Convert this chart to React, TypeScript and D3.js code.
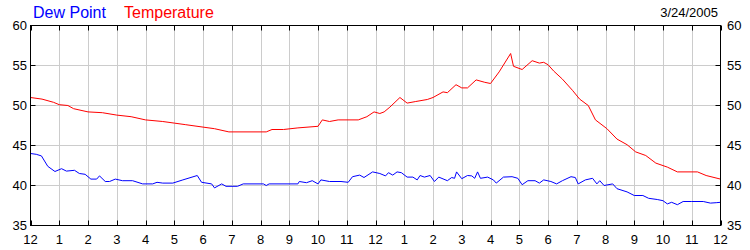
import React from "react";
import * as d3 from "d3";

const hourLabels = ["12","1","2","3","4","5","6","7","8","9","10","11","12","1","2","3","4","5","6","7","8","9","10","11","12"];
const yTicks = [35, 40, 45, 50, 55, 60];

const tempHours = [0,0.4,0.8,1.0,1.3,1.5,2.0,2.5,3.0,3.5,4.0,4.6,5.0,5.4,6.0,6.4,6.9,8.2,8.4,8.8,9.3,10.0,10.15,10.4,10.7,11.4,11.7,11.95,12.15,12.3,12.5,12.85,13.1,13.4,13.8,14.0,14.35,14.5,14.8,15.0,15.2,15.5,15.8,16.0,16.3,16.7,16.8,17.1,17.45,17.7,17.85,18.0,18.2,18.5,18.85,19.1,19.4,19.65,20.05,20.4,20.75,21.05,21.4,21.75,22.15,22.5,23.2,23.5,24];
const tempValues = [51.0,50.8,50.4,50.1,50.0,49.6,49.2,49.1,48.8,48.6,48.2,48.0,47.8,47.6,47.3,47.1,46.7,46.7,47.0,47.0,47.2,47.4,48.2,48.0,48.2,48.2,48.6,49.2,49.0,49.2,49.8,51.0,50.3,50.5,50.75,51.0,51.7,51.6,52.6,52.2,52.2,53.2,52.9,52.75,54.2,56.5,54.9,54.5,55.6,55.3,55.4,55.1,54.3,53.3,51.9,50.8,50.0,48.2,47.1,45.8,45.1,44.2,43.75,42.8,42.3,41.7,41.7,41.25,40.8];

const dewHours = [0,0.2,0.38,0.6,0.85,1.08,1.25,1.53,1.7,1.9,2.1,2.3,2.4,2.6,2.75,2.95,3.2,3.55,3.9,4.25,4.4,4.6,4.95,5.3,5.8,5.95,6.3,6.4,6.65,6.8,7.2,7.4,7.6,8.1,8.2,8.3,9.3,9.35,9.6,9.8,10.0,10.1,10.4,10.8,11.05,11.2,11.45,11.6,11.9,12.15,12.35,12.45,12.6,12.75,12.9,13.1,13.3,13.45,13.55,13.7,13.9,14.05,14.2,14.5,14.65,14.75,14.82,15.0,15.2,15.35,15.45,15.55,15.65,15.9,16.1,16.2,16.45,16.75,16.95,17.1,17.3,17.55,17.7,17.85,18.1,18.3,18.5,18.8,18.95,19.05,19.3,19.55,19.7,19.8,19.95,20.25,20.4,20.75,21.0,21.3,21.5,21.8,22.0,22.15,22.3,22.5,22.7,23.0,23.4,23.65,23.85,24];
const dewValues = [44.0,43.9,43.7,42.4,41.75,42.1,41.8,41.9,41.5,41.4,40.8,40.8,41.2,40.5,40.5,40.8,40.6,40.6,40.2,40.2,40.4,40.3,40.3,40.7,41.25,40.4,40.2,39.7,40.2,39.9,39.9,40.2,40.2,40.2,40.0,40.2,40.2,40.5,40.35,40.6,40.2,40.7,40.5,40.5,40.4,41.1,41.3,41.0,41.7,41.5,41.2,41.6,41.3,41.7,41.6,41.05,41.05,40.7,41.25,41.05,41.25,40.5,41.05,40.6,41.0,40.9,41.7,40.85,41.25,41.2,40.9,41.7,40.9,41.05,40.7,40.3,41.05,41.1,40.9,40.1,40.6,40.6,40.3,40.7,40.5,40.2,40.6,41.1,41.0,40.2,40.7,40.9,40.2,40.6,40.0,40.2,39.6,39.2,38.75,38.75,38.4,38.25,38.1,37.7,37.9,37.6,38.0,38.0,38.0,37.8,37.85,37.9];

const seriesNames = ["Dew Point", "Temperature"];
const dateLabel = "3/24/2005";

export default function App() {
  const W = 750, H = 250;
  const x = d3.scaleLinear().domain([0, 24]).range([30.5, 720.5]);
  const y = d3.scaleLinear().domain([35, 60]).range([225.5, 25.5]);
  const line = d3.line<[number, number]>().x(d => x(d[0])).y(d => y(d[1]));
  const tempPts = tempHours.map((h, i) => [h, tempValues[i]] as [number, number]);
  const dewPts = dewHours.map((h, i) => [h, dewValues[i]] as [number, number]);
  const font = "Arial, 'Liberation Sans', sans-serif";
  const hours = d3.range(0, 25);
  return (
    <svg width={W} height={H} style={{ position: "absolute", left: 0, top: 0, background: "#fff" }} fontFamily={font}>
      <rect x={0} y={0} width={W} height={H} fill="#fff" />
      {/* grid */}
      {hours.slice(1, 24).map(h => (
        <line key={"gx" + h} x1={Math.round(x(h)) + 0.5} x2={Math.round(x(h)) + 0.5} y1={25.5} y2={225.5} stroke="#cccccc" strokeWidth={1} />
      ))}
      {yTicks.slice(1, -1).map(v => (
        <line key={"gy" + v} x1={30.5} x2={720.5} y1={y(v)} y2={y(v)} stroke="#cccccc" strokeWidth={1} />
      ))}
      {/* series */}
      <path d={line(dewPts) || ""} fill="none" stroke="#0000ff" strokeWidth={1} />
      <path d={line(tempPts) || ""} fill="none" stroke="#ff0000" strokeWidth={1} />
      {/* frame */}
      <rect x={30.5} y={25.5} width={690} height={200} fill="none" stroke="#000" strokeWidth={1} />
      {/* ticks */}
      {hours.map(h => (
        <g key={"t" + h}>
          <line x1={Math.round(x(h)) + 0.5} x2={Math.round(x(h)) + 0.5} y1={225.5} y2={220.5} stroke="#000" />
          <line x1={Math.round(x(h)) + 0.5} x2={Math.round(x(h)) + 0.5} y1={25.5} y2={30.5} stroke="#000" />
          <text x={x(h)} y={244} textAnchor="middle" fontSize={13} fill="#000">{hourLabels[h]}</text>
        </g>
      ))}
      {yTicks.map(v => (
        <g key={"yt" + v}>
          <line x1={30.5} x2={35.5} y1={y(v)} y2={y(v)} stroke="#000" />
          <line x1={715.5} x2={720.5} y1={y(v)} y2={y(v)} stroke="#000" />
          <text x={27} y={y(v) + 4.5} textAnchor="end" fontSize={13} fill="#000">{v}</text>
          <text x={727} y={y(v) + 4.5} textAnchor="start" fontSize={13} fill="#000">{v}</text>
        </g>
      ))}
      {/* title */}
      <text x={33} y={18} fontSize={16} fill="#0000ff">{seriesNames[0]}</text>
      <text x={124} y={18} fontSize={16} fill="#ff0000">{seriesNames[1]}</text>
      <text x={718} y={17} fontSize={13} textAnchor="end" fill="#000">{dateLabel}</text>
    </svg>
  );
}
